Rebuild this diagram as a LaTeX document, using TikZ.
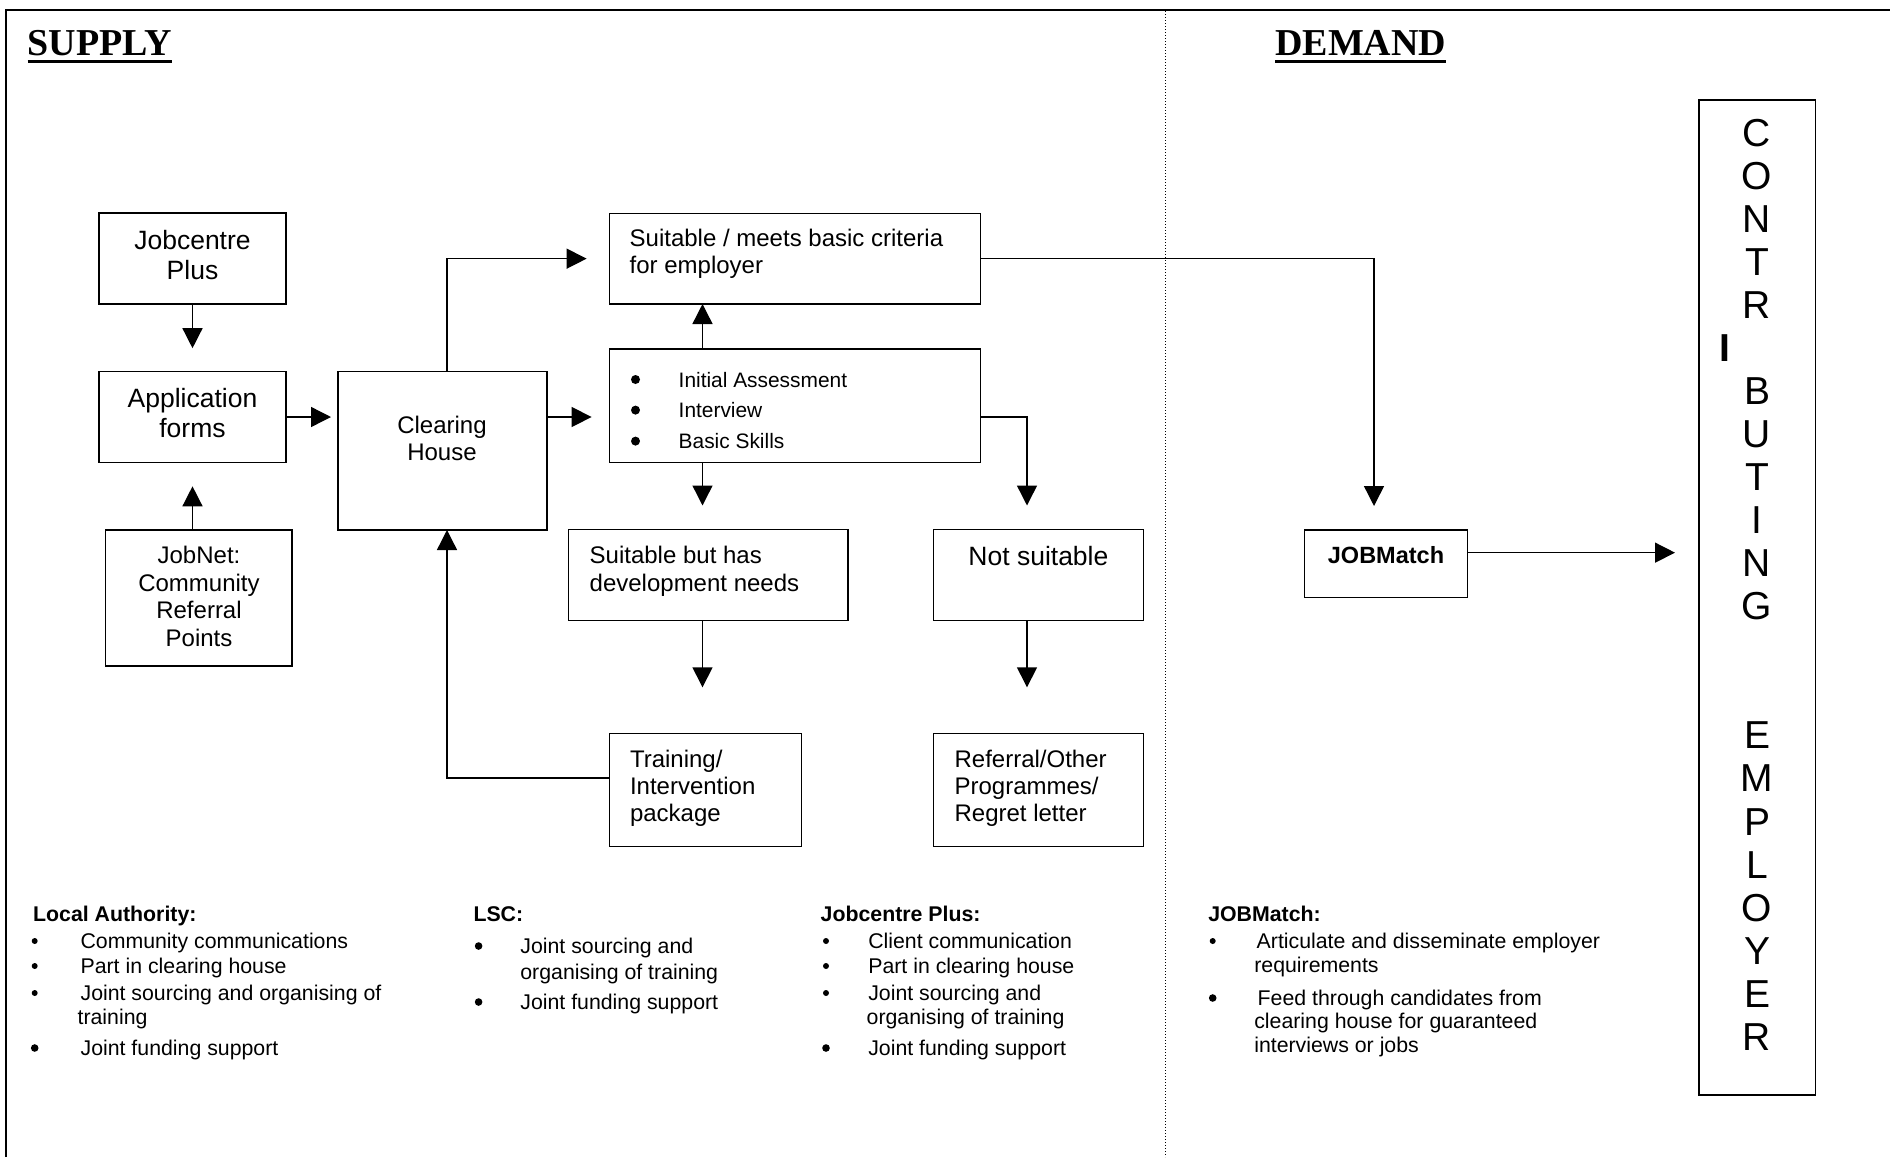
\documentclass[tikz,border=0pt]{standalone}
\usepackage{fontspec}
\setmainfont{Liberation Sans}
\newfontfamily\titlefont{Liberation Serif}
\usetikzlibrary{arrows.meta,fit}
\newcommand\fsz[1]{\fontsize{#1}{#1}\selectfont}
\tikzset{
  box/.style={draw, line width=1.4pt, inner sep=0pt, outer sep=0pt, rectangle},
  txt/.style={inner sep=0pt, outer sep=0pt},
  arr/.style={line width=1.4pt, -{Triangle[length=20pt,width=20pt]}},
  frame/.style={line width=2pt},
  divider/.style={line width=1.3pt, dash pattern=on 1.3pt off 1.7pt},
  big/.style={txt, font=\fsz{26.5}},
  mid/.style={txt, font=\fsz{24}},
  small/.style={txt, font=\fsz{20.9}},
  note/.style={txt, anchor=base west, font=\fsz{21.3}},
  notehead/.style={txt, anchor=base west, font={\bfseries\fsz{21.3}}},
  title/.style={txt, anchor=base west, font={\titlefont\bfseries\fsz{38}}},
  empl/.style={txt, anchor=base, font=\fsz{39}}
}
\begin{document}
\begin{tikzpicture}[x=1pt,y=-1pt]
\useasboundingbox (0,0) rectangle (1890,1157);
\fill[white] (0,0) rectangle (1890,1157);

% frame and divider
\draw[frame] (6,1157) -- (6,10) -- (1890,10);
\coordinate (dvtop) at (1165.5,11);
\coordinate (dvbot) at (1165.5,1157);
\draw[divider] (dvtop) -- (dvbot);

% titles
\node[title] (supply) at (27.5,55) {SUPPLY};
\draw[line width=3pt] ([yshift=-6pt]supply.base west) -- ([yshift=-6pt]supply.base east);
\node[title] (demand) at (1275.3,55) {DEMAND};
\draw[line width=3pt] ([yshift=-6pt]demand.base west) -- ([yshift=-6pt]demand.base east);

% boxes
\node[box, fit={(99,213) (286,304)}] (jcp) {};
\node[box, fit={(99,371.7) (286,462.3)}] (app) {};
\node[box, fit={(105.7,530) (292,666)}] (jobnet) {};
\node[box, fit={(338,371.7) (547,530)}] (clear) {};
\node[box, fit={(609.6,213.3) (980.7,304)}] (suit) {};
\node[box, fit={(609.6,349) (980.7,462.3)}] (assess) {};
\node[box, fit={(568.7,529.5) (847.9,620.7)}] (dev) {};
\node[box, fit={(933.7,529.5) (1143.2,620.7)}] (notsuit) {};
\node[box, fit={(609.4,733.3) (801.6,846.7)}] (train) {};
\node[box, fit={(933.7,733.3) (1143.2,846.7)}] (referral) {};
\node[box, fit={(1304.7,530) (1467.7,597.3)}] (jobmatch) {};
\node[box, fit={(1699,100) (1815.3,1095)}] (employer) {};

% box texts
\node[big, anchor=base] (t1a) at (192.5,249.3) {Jobcentre};
\node[big, anchor=base] (t1b) at (192.5,279.3) {Plus};
\node[big, anchor=base] (t2a) at (192.5,407.5) {Application};
\node[big, anchor=base] (t2b) at (192.5,437.3) {forms};
\node[mid, anchor=base] (t3a) at (199,563.3) {JobNet:};
\node[mid, anchor=base] (t3b) at (199,591) {Community};
\node[mid, anchor=base] (t3c) at (199,618.3) {Referral};
\node[mid, anchor=base] (t3d) at (199,646) {Points};
\node[mid, anchor=base] (t4a) at (442,433) {Clearing};
\node[mid, anchor=base] (t4b) at (442,460) {House};
\node[mid, anchor=base west] (t5a) at (629.7,246.2) {Suitable / meets basic criteria};
\node[mid, anchor=base west] (t5b) at (629.7,273.8) {for employer};
\foreach \yy/\tt/\nm in {387/Initial Assessment/a, 417.6/Interview/b, 448.6/Basic Skills/c}{
  \fill (635.5,\yy-7.5) circle (4.5pt);
  \node[small, anchor=base west] (t6\nm) at (678.7,\yy) {\tt};
}
\node[mid, anchor=base west] (t7a) at (589.7,563.5) {Suitable but has};
\node[mid, anchor=base west] (t7b) at (589.7,591.2) {development needs};
\node[big, anchor=base] (t8a) at (1038.4,565.5) {Not suitable};
\node[mid, anchor=base west] (t9a) at (630,767.2) {Training/};
\node[mid, anchor=base west] (t9b) at (630,794.5) {Intervention};
\node[mid, anchor=base west] (t9c) at (630,821.2) {package};
\node[mid, anchor=base west] (t10a) at (954.6,767.2) {Referral/Other};
\node[mid, anchor=base west] (t10b) at (954.6,794.5) {Programmes/};
\node[mid, anchor=base west] (t10c) at (954.6,821.2) {Regret letter};
\node[txt, anchor=base, font={\bfseries\fsz{23.5}}] (t11a) at (1386,563.2) {JOBMatch};

% CONTRIBUTING EMPLOYER
\foreach \i/\ch in {0/C,1/O,2/N,3/T,4/R,6/B,7/U,8/T,9/I,10/N,11/G,14/E,15/M,16/P,17/L,18/O,19/Y,20/E,21/R}{
  \node[empl] (emp\i) at (1757,{146.2+\i*43.05}) {\ch};
}
\node[empl, font={\bfseries\fsz{39}}] (empI) at (1724.5,361.5) {I};

% connectors
\coordinate (xa) at (702.5,0);
\coordinate (xb) at (1027,0);
\coordinate (xc) at (1374,0);
\coordinate (xd) at (447,0);
\draw[arr, shorten >=23.5pt] (jcp.south) -- (app.north);
\draw[arr, shorten >=24pt] (app.south |- jobnet.north) -- (app.south);
\draw[arr, shorten >=7pt] (app.east) -- (app.east -| clear.west);
\draw[arr, shorten >=18pt] (clear.east |- app.east) -- (assess.west |- app.east);
\draw[arr, shorten >=23pt] (clear.north -| xd) |- (suit.west);
\draw[arr] (assess.north -| xa) -- (suit.south -| xa);
\draw[arr, shorten >=24pt] (assess.south -| xa) -- (dev.north -| xa);
\draw[arr, shorten >=46pt] (dev.south -| xa) -- (train.north -| xa);
\draw[arr, shorten >=24pt] (assess.east |- app.east) -| (notsuit.north -| xb);
\draw[arr, shorten >=46pt] (notsuit.south -| xb) -- (referral.north -| xb);
\draw[arr] ([yshift=12pt]train.west) -| (clear.south -| xd);
\draw[arr, shorten >=24pt] (suit.east) -| (jobmatch.north -| xc);
\draw[arr, shorten >=24pt] ([yshift=11pt]jobmatch.east) -- ([yshift=11pt]jobmatch.east -| employer.west);

% bottom notes: Local Authority
\node[notehead] (la) at (33.2,921.5) {Local Authority:};
\fill (34.7,941) circle (3pt);
\node[note] (la1) at (80.6,948) {Community communications};
\fill (34.7,966) circle (3pt);
\node[note] (la2) at (80.6,973) {Part in clearing house};
\fill (34.7,993) circle (3pt);
\node[note] (la3) at (80.6,1000) {Joint sourcing and organising of};
\node[note] (la4) at (77.6,1024) {training};
\fill (34.7,1048) circle (3.8pt);
\node[note] (la5) at (80.6,1055) {Joint funding support};

% LSC
\node[notehead] (lsc) at (473.5,921.5) {LSC:};
\fill (478.6,946) circle (3.8pt);
\node[note] (lsc1) at (520.4,953) {Joint sourcing and};
\node[note] (lsc2) at (520.4,979) {organising of training};
\fill (478.6,1002) circle (3.8pt);
\node[note] (lsc3) at (520.4,1009) {Joint funding support};

% Jobcentre Plus
\node[notehead] (jp) at (820.7,921.5) {Jobcentre Plus:};
\fill (826,941) circle (3pt);
\node[note] (jp1) at (868.3,948) {Client communication};
\fill (826,966) circle (3pt);
\node[note] (jp2) at (868.3,973) {Part in clearing house};
\fill (826,993) circle (3pt);
\node[note] (jp3) at (868.3,1000) {Joint sourcing and};
\node[note] (jp4) at (866.7,1024) {organising of training};
\fill (826,1048) circle (3.8pt);
\node[note] (jp5) at (868.3,1055) {Joint funding support};

% JOBMatch
\node[notehead] (jm) at (1208.3,921.5) {JOBMatch:};
\fill (1212.7,941) circle (3pt);
\node[note] (jm1) at (1256.7,948) {Articulate and disseminate employer};
\node[note] (jm2) at (1254.3,972.5) {requirements};
\fill (1212.7,998) circle (3.8pt);
\node[note] (jm3) at (1257.7,1005) {Feed through candidates from};
\node[note] (jm4) at (1254.3,1028.5) {clearing house for guaranteed};
\node[note] (jm5) at (1254.3,1052) {interviews or jobs};
\end{tikzpicture}
\end{document}
